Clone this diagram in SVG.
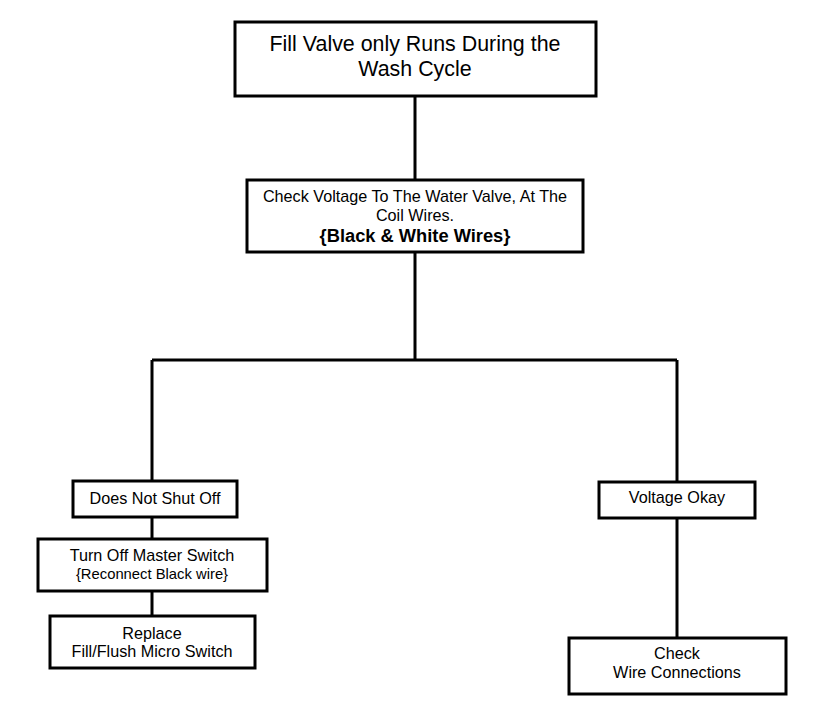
<svg xmlns="http://www.w3.org/2000/svg" width="816" height="708" viewBox="0 0 816 708">
<style>
.box{fill:#fff;stroke:#000;stroke-width:3}
.ln{fill:none;stroke:#000;stroke-width:3}
text{font-family:"Liberation Sans",Arial,sans-serif;fill:#000;text-anchor:middle}
.t20{font-size:21.4px}
.t15{font-size:16.2px}
.t13{font-size:14.8px}
.b{font-weight:bold;font-size:18.3px}
</style>
<rect width="816" height="708" fill="#fff"/>
<g id="connectors">
<path class="ln" d="M415 96V180M415 252V360M152 360H677M152 360V481M677 360V482M152 517V539M152 591V616M677 518V638"/>
</g>
<g id="n1"><rect class="box" x="235" y="22" width="361" height="74"/>
<text class="t20" x="415" y="51">Fill Valve only Runs During the</text>
<text class="t20" x="415" y="76">Wash Cycle</text></g>
<g id="n2"><rect class="box" x="247" y="180" width="336" height="72"/>
<text class="t15" x="415" y="202">Check Voltage To The Water Valve, At The</text>
<text class="t15" x="415" y="221">Coil Wires.</text>
<text class="b" x="415" y="242">{Black &amp; White Wires}</text></g>
<g id="n3"><rect class="box" x="73" y="481" width="164" height="36"/>
<text class="t15" x="155" y="504">Does Not Shut Off</text></g>
<g id="n4"><rect class="box" x="38" y="539" width="229" height="52"/>
<text class="t15" x="152" y="561">Turn Off Master Switch</text>
<text class="t13" x="152" y="579">{Reconnect Black wire}</text></g>
<g id="n5"><rect class="box" x="50" y="616" width="205" height="52"/>
<text class="t15" x="152" y="639">Replace</text>
<text class="t15" x="152" y="657">Fill/Flush Micro Switch</text></g>
<g id="n6"><rect class="box" x="599" y="482" width="156" height="36"/>
<text class="t15" x="677" y="503">Voltage Okay</text></g>
<g id="n7"><rect class="box" x="569" y="638" width="217" height="56"/>
<text class="t15" x="677" y="659">Check</text>
<text class="t15" x="677" y="678">Wire Connections</text></g>
</svg>
